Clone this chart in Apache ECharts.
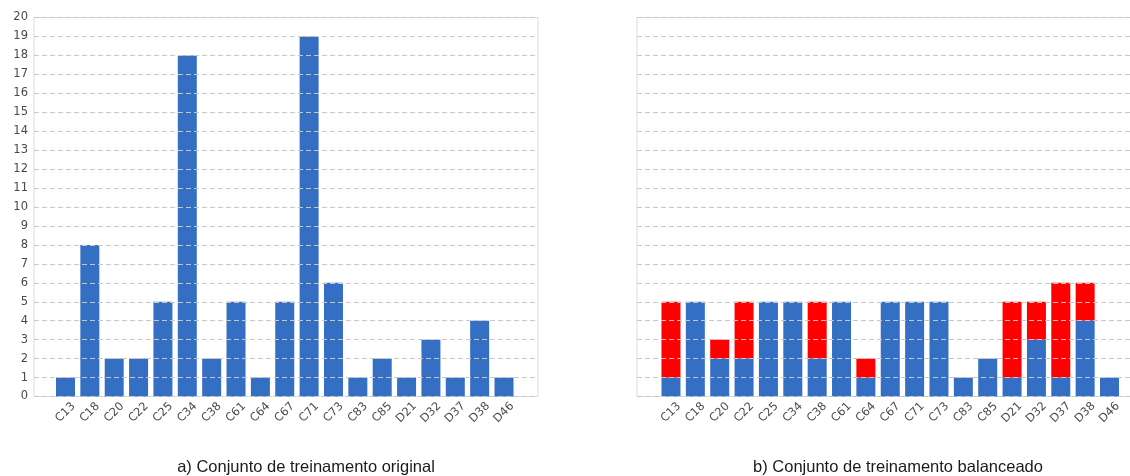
<!DOCTYPE html>
<html>
<head>
<meta charset="utf-8">
<title>Conjunto de treinamento</title>
<script src="https://cdn.jsdelivr.net/npm/echarts@6/dist/echarts.min.js"></script>
<style>
  html, body { margin: 0; padding: 0; background: #fff; overflow: hidden; width: 1130px; height: 476px; }
  /* canvas is wider than the window: the right panel runs past the page edge */
  #chart { width: 1200px; height: 476px; }
</style>
</head>
<body>
<div id="chart"></div>
<script>
// Classes in the training set
const categories = ['C13','C18','C20','C22','C25','C34','C38','C61','C64','C67','C71','C73','C83','C85','D21','D32','D37','D38','D46'];
// a) original training set: samples per class
const originalCounts = [1,8,2,2,5,18,2,5,1,5,19,6,1,2,1,3,1,4,1];
// b) balanced training set: original samples (blue) + added samples (red)
const balancedOriginal = [1,5,2,2,5,5,2,5,1,5,5,5,1,2,1,3,1,4,1];
const balancedAdded = [4,0,1,3,0,0,3,0,1,0,0,0,0,0,4,2,5,2,0];
// y-axis tick range
const yMin = 0, yMax = 20, yStep = 1;
const captions = ['a) Conjunto de treinamento original', 'b) Conjunto de treinamento balanceado'];

const BLUE = '#356fc4';
const RED = '#ff0000';
const TOP = 17.5, HEIGHT = 379;

const chart = echarts.init(document.getElementById('chart'), null, { renderer: 'canvas' });

// frame grids (border + dashed lines + y labels) and bar grids (narrower category band)
const frames = [{ left: 34, width: 504 }, { left: 637, width: 522 }];
const bars = [{ left: 53.3, width: 462.9 }, { left: 658.8, width: 462.9 }];

const grid = [];
const xAxis = [];
const yAxis = [];
frames.forEach((f, i) => {
  grid.push({ left: f.left, width: f.width, top: TOP, height: HEIGHT, show: true,
    borderColor: '#dcdcdc', borderWidth: 1, backgroundColor: 'transparent' });
  xAxis.push({ type: 'value', gridIndex: grid.length - 1, show: false, min: 0, max: 1 });
  yAxis.push({ type: 'value', gridIndex: grid.length - 1, min: yMin, max: yMax, interval: yStep, z: 10,
    axisLine: { show: false }, axisTick: { show: false },
    axisLabel: { show: i === 0, color: '#4a4a4a', fontSize: 11.5, fontFamily: 'DejaVu Sans', margin: 6 },
    splitLine: { show: true, lineStyle: { color: '#c8c8c8', type: [5, 3], width: 1 } } });
});
bars.forEach((b) => {
  grid.push({ left: b.left, width: b.width, top: TOP, height: HEIGHT });
  xAxis.push({ type: 'category', gridIndex: grid.length - 1, data: categories,
    axisLine: { show: false }, axisTick: { show: false },
    axisLabel: { interval: 0, rotate: 45, align: 'center', verticalAlign: 'middle', margin: 16,
      color: '#4a4a4a', fontSize: 11.5, fontFamily: 'DejaVu Sans' } });
  yAxis.push({ type: 'value', gridIndex: grid.length - 1, min: yMin, max: yMax, interval: yStep,
    show: false, splitLine: { show: false } });
});

const barCommon = { type: 'bar', barCategoryGap: '22%', z: 2, silent: true, animation: false };

chart.setOption({
  animation: false,
  grid, xAxis, yAxis,
  series: [
    Object.assign({}, barCommon, { name: 'original', xAxisIndex: 2, yAxisIndex: 2,
      data: originalCounts, itemStyle: { color: BLUE } }),
    Object.assign({}, barCommon, { name: 'base', xAxisIndex: 3, yAxisIndex: 3, stack: 'bal',
      data: balancedOriginal, itemStyle: { color: BLUE } }),
    Object.assign({}, barCommon, { name: 'added', xAxisIndex: 3, yAxisIndex: 3, stack: 'bal',
      data: balancedAdded, itemStyle: { color: RED } })
  ],
  graphic: [
    { type: 'text', x: 306, y: 467, style: { text: captions[0], fill: '#1a1a1a',
      font: '16.5px "Liberation Sans", Arial, sans-serif', textAlign: 'center', textVerticalAlign: 'middle' } },
    { type: 'text', x: 898, y: 467, style: { text: captions[1], fill: '#1a1a1a',
      font: '16.5px "Liberation Sans", Arial, sans-serif', textAlign: 'center', textVerticalAlign: 'middle' } }
  ]
});
</script>
</body>
</html>
